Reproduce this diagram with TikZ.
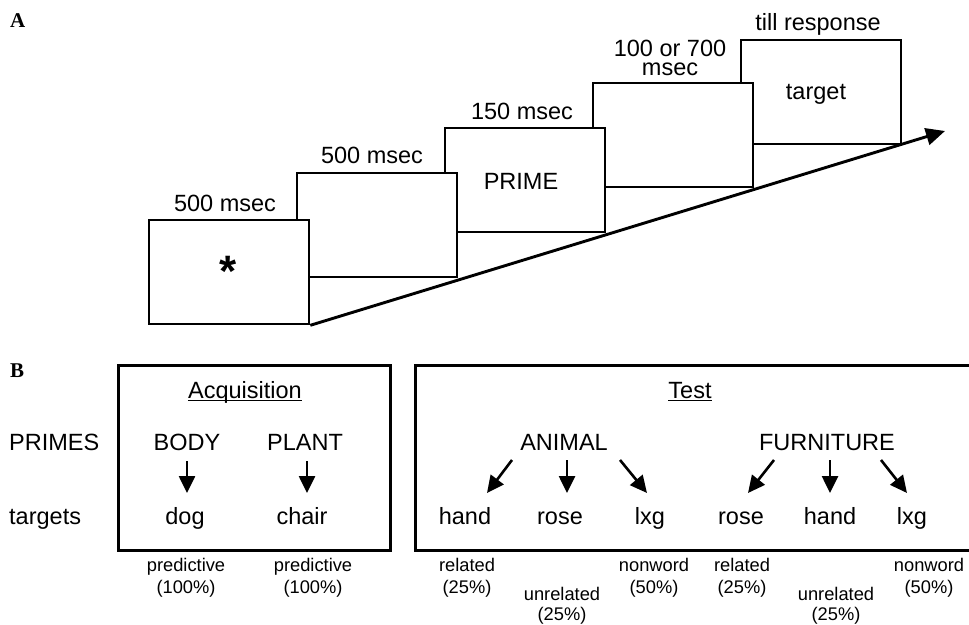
\documentclass[tikz,border=0pt]{standalone}
\usepackage{fontspec}
\setmainfont{Liberation Sans}
\newfontfamily\panelfont{Liberation Serif}
\usetikzlibrary{arrows.meta,calc}

\tikzset{
  frame/.style={draw, line width=2.3pt, fill=white, inner sep=0pt,
    minimum width=160pt, minimum height=104pt, anchor=north west},
  panelbox/.style={draw, line width=2.7pt, inner sep=0pt, anchor=north west},
  txt/.style={font=\fontsize{23.5}{23.5}\selectfont, inner sep=0pt, anchor=base},
  txtleft/.style={txt, anchor=base west},
  note/.style={font=\fontsize{18.3}{18.3}\selectfont, inner sep=0pt, anchor=base},
  tag/.style={font=\panelfont\bfseries\fontsize{21}{21}\selectfont, inner sep=0pt, anchor=base west},
  starmark/.style={font=\bfseries\fontsize{44}{44}\selectfont, inner sep=0pt, anchor=base},
  timeline/.style={line width=2.9pt, -{Triangle[length=19pt,width=17pt]}},
  link/.style={line width=2.6pt, -{Triangle[length=17pt,width=16pt]}},
  uline/.style={line width=1.4pt},
}

\begin{document}
\begin{tikzpicture}[x=1pt, y=-1pt]
\useasboundingbox (0,0) rectangle (969,624);

% ---------- A: trial sequence ----------
\node[tag] (tagA) at (10,27) {A};

% later screens first, so earlier ones sit in front
\node[frame] (f5) at (740,39)  {};
\node[frame] (f4) at (592,82)  {};
\node[frame] (f3) at (444,127) {};
\node[frame] (f2) at (296,172) {};
\node[frame] (f1) at (148,219) {};

\node[txt] (d1)  at (225,211) {500 msec};
\node[txt] (d2)  at (372,163) {500 msec};
\node[txt] (d3)  at (522,119) {150 msec};
\node[txt, anchor=north, align=center, font=\fontsize{23.5}{19}\selectfont]
  (d4) at (670,40) {100 or 700\\msec};
\node[txt] (d5)  at (818,30)  {till response};

\node[starmark] (fix) at (228,286) {*};
\node[txt] (prime)  at (521,189) {PRIME};
\node[txt] (target) at (816,99)  {target};

\coordinate (tip) at (945,131);
\draw[timeline] (f1.south east) -- (tip);

% ---------- B: design ----------
\node[tag] (tagB) at (10,377) {B};

\node[panelbox, minimum width=272pt, minimum height=185pt] (acqbox)  at (117,364) {};
\node[panelbox, minimum width=561pt, minimum height=185pt] (testbox) at (414,364) {};

\node[txt] (acq)  at (245,398) {Acquisition};
\node[txt] (test) at (690,398) {Test};
\draw[uline] ([yshift=-2.5pt]acq.base west)  -- ([yshift=-2.5pt]acq.base east);
\draw[uline] ([yshift=-2.5pt]test.base west) -- ([yshift=-2.5pt]test.base east);

\node[txtleft] (primes)  at (9,450) {PRIMES};
\node[txtleft] (targets) at (9,524) {targets};

% acquisition pairs
\node[txt] (body)  at (187,450) {BODY};
\node[txt] (plant) at (305,450) {PLANT};
\node[txt] (dog)   at (185,524) {dog};
\node[txt] (chair) at (302,524) {chair};
\draw[link] ($(body.base)+(0,11)$)  -- ($(dog.base)+(2,-31)$);
\draw[link] ($(plant.base)+(2,11)$) -- ($(chair.base)+(5,-31)$);

% test primes and targets
\node[txt] (animal)    at (564,450) {ANIMAL};
\node[txt] (furniture) at (827,450) {FURNITURE};
\node[txt] (handA) at (465,524) {hand};
\node[txt] (roseA) at (560,524) {rose};
\node[txt] (lxgA)  at (650,524) {lxg};
\node[txt] (roseF) at (741,524) {rose};
\node[txt] (handF) at (830,524) {hand};
\node[txt] (lxgF)  at (912,524) {lxg};

\draw[link] ($(animal.base)+(-52,10)$) -- ($(handA.base)+(22,-31)$);
\draw[link] ($(animal.base)+(3,10)$)   -- ($(roseA.base)+(7,-31)$);
\draw[link] ($(animal.base)+(56,10)$)  -- ($(lxgA.base)+(-3,-31)$);
\draw[link] ($(furniture.base)+(-53,10)$) -- ($(roseF.base)+(7,-31)$);
\draw[link] ($(furniture.base)+(3,10)$)   -- ($(handF.base)+(0,-31)$);
\draw[link] ($(furniture.base)+(54,10)$)  -- ($(lxgF.base)+(-5,-31)$);

% condition notes under the panels
\node[note] (p1a) at (186,571) {predictive};
\node[note] (p1b) at (186,593) {(100\%)};
\node[note] (p2a) at (313,571) {predictive};
\node[note] (p2b) at (313,593) {(100\%)};

\node[note] (r1a) at (467,571) {related};
\node[note] (r1b) at (467,593) {(25\%)};
\node[note] (u1a) at (562,600) {unrelated};
\node[note] (u1b) at (562,620) {(25\%)};
\node[note] (n1a) at (654,571) {nonword};
\node[note] (n1b) at (654,593) {(50\%)};

\node[note] (r2a) at (742,571) {related};
\node[note] (r2b) at (742,593) {(25\%)};
\node[note] (u2a) at (836,600) {unrelated};
\node[note] (u2b) at (836,620) {(25\%)};
\node[note] (n2a) at (929,571) {nonword};
\node[note] (n2b) at (929,593) {(50\%)};
\end{tikzpicture}
\end{document}
